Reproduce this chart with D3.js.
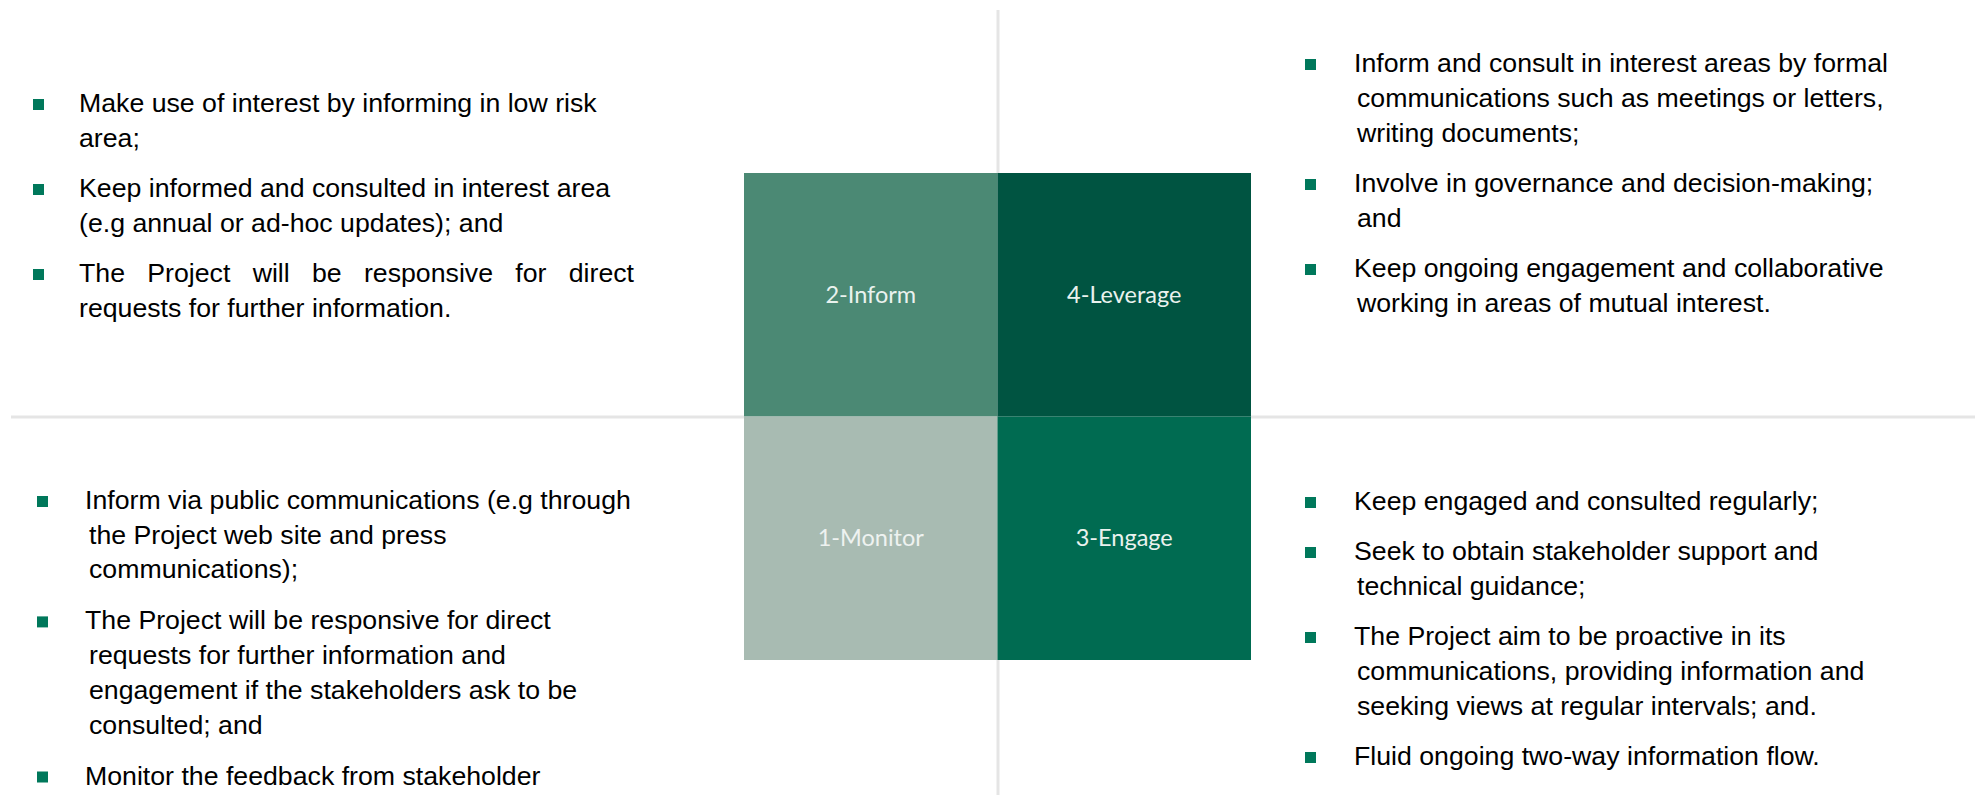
<!DOCTYPE html>
<html>
<head>
<meta charset="utf-8">
<style>
  body { margin: 0; background: #fff; }
  svg { display: block; }
</style>
</head>
<body>
<svg id="draw"></svg>

<script src="https://cdn.jsdelivr.net/npm/d3@7/dist/d3.min.js"></script>

<script>
    // quadrant grid: columns / rows and the label in each cell
    var columns = ["low", "high"];
    var rows = ["high", "low"];
    var quadrants = [
        {col: "low",  row: "high", label: "2-Inform"},
        {col: "high", row: "high", label: "4-Leverage"},
        {col: "low",  row: "low",  label: "1-Monitor"},
        {col: "high", row: "low",  label: "3-Engage"}
    ];

    // bullet texts, one array of lines per bullet
    var informItems = [
        ["Make use of interest by informing in low risk", "area;"],
        ["Keep informed and consulted in interest area", "(e.g annual or ad-hoc updates); and"],
        ["The Project will be responsive for direct", "requests for further information."]
    ];
    var leverageItems = [
        ["Inform and consult in interest areas by formal", "communications such as meetings or letters,", "writing documents;"],
        ["Involve in governance and decision-making;", "and"],
        ["Keep ongoing engagement and collaborative", "working in areas of mutual interest."]
    ];
    var monitorItems = [
        ["Inform via public communications (e.g through", "the Project web site and press", "communications);"],
        ["The Project will be responsive for direct", "requests for further information and", "engagement if the stakeholders ask to be", "consulted; and"],
        ["Monitor the feedback from stakeholder"]
    ];
    var engageItems = [
        ["Keep engaged and consulted regularly;"],
        ["Seek to obtain stakeholder support and", "technical guidance;"],
        ["The Project aim to be proactive in its", "communications, providing information and", "seeking views at regular intervals; and."],
        ["Fluid ongoing two-way information flow."]
    ];

    var width = 1975;
    var height = 795;

    var boxLeft = 744, boxRight = 1251, boxTop = 173, boxBottom = 660;
    var midX = 998, midY = 417;

    var fillColor = d3.scaleOrdinal()
        .domain(["2-Inform", "4-Leverage", "1-Monitor", "3-Engage"])
        .range(["#4b8974", "#005441", "#a8bbb2", "#006b51"]);
    var bulletColor = "#00785b";
    var lineColor = "#e5e5e5";
    var textFont = "'Liberation Sans', Arial, sans-serif";
    var fontSize = 26.7;

    const svg = d3.select("svg#draw")
        .attr("width", width)
        .attr("height", height)
        .attr("viewBox", [0, 0, width, height]);

    // divider lines
    svg.append("line")
        .attr("x1", midX).attr("x2", midX)
        .attr("y1", 10).attr("y2", height)
        .attr("stroke", lineColor).attr("stroke-width", 3);
    svg.append("line")
        .attr("x1", 11).attr("x2", width)
        .attr("y1", midY).attr("y2", midY)
        .attr("stroke", lineColor).attr("stroke-width", 3);

    var x = d3.scaleBand().domain(columns).range([boxLeft, boxRight]);
    var y = d3.scaleBand().domain(rows).range([boxTop, boxBottom]);

    const cell = svg.selectAll("g.cell")
        .data(quadrants)
        .enter().append("g")
        .attr("class", "cell")
        .attr("transform", d => `translate(${x(d.col)},${y(d.row)})`);

    cell.append("rect")
        .attr("width", x.bandwidth())
        .attr("height", y.bandwidth())
        .attr("fill", d => fillColor(d.label));

    cell.append("text")
        .attr("x", x.bandwidth() / 2)
        .attr("y", y.bandwidth() / 2)
        .attr("dy", "0.35em")
        .attr("text-anchor", "middle")
        .attr("fill", d => d.label == "1-Monitor" ? "#eef2f0" : "#eaf2ee")
        .style("font-family", "Lato, 'Open Sans', sans-serif")
        .style("font-size", "23.5px")
        .text(d => d.label);

    // bullet lists
    function drawList(items, opt) {
        const g = svg.append("g");
        var base = opt.top;
        items.forEach((lines, i) => {
            g.append("rect")
                .attr("x", opt.bulletX)
                .attr("y", base - 13)
                .attr("width", 11)
                .attr("height", 11)
                .attr("fill", bulletColor);
            lines.forEach((ln, j) => {
                var t = g.append("text")
                    .attr("x", j == 0 ? opt.textX : opt.contX)
                    .attr("y", base + j * opt.lineH)
                    .attr("fill", "#000")
                    .style("font-family", textFont)
                    .style("font-size", fontSize + "px")
                    .style("white-space", "pre")
                    .text(ln);
                // justified first line
                if (opt.justify && opt.justify[i] && j == 0) {
                    var natural = t.node().getComputedTextLength();
                    var gaps = ln.split(" ").length - 1;
                    var target = opt.justify[i] - opt.textX;
                    if (gaps > 0 && target > natural)
                        t.style("word-spacing", ((target - natural) / gaps) + "px");
                }
            });
            base += (lines.length - 1) * opt.lineH + opt.gap;
        });
    }

    drawList(informItems,   {bulletX: 33,   textX: 79,   contX: 79,   top: 112, lineH: 35,   gap: 50, justify: {2: 634}});
    drawList(leverageItems, {bulletX: 1305, textX: 1354, contX: 1357, top: 72,  lineH: 35,   gap: 50});
    drawList(monitorItems,  {bulletX: 37,   textX: 85,   contX: 89,   top: 509, lineH: 34.7, gap: 51});
    drawList(engageItems,   {bulletX: 1305, textX: 1354, contX: 1357, top: 510, lineH: 35,   gap: 50});
</script>
</body>
</html>
